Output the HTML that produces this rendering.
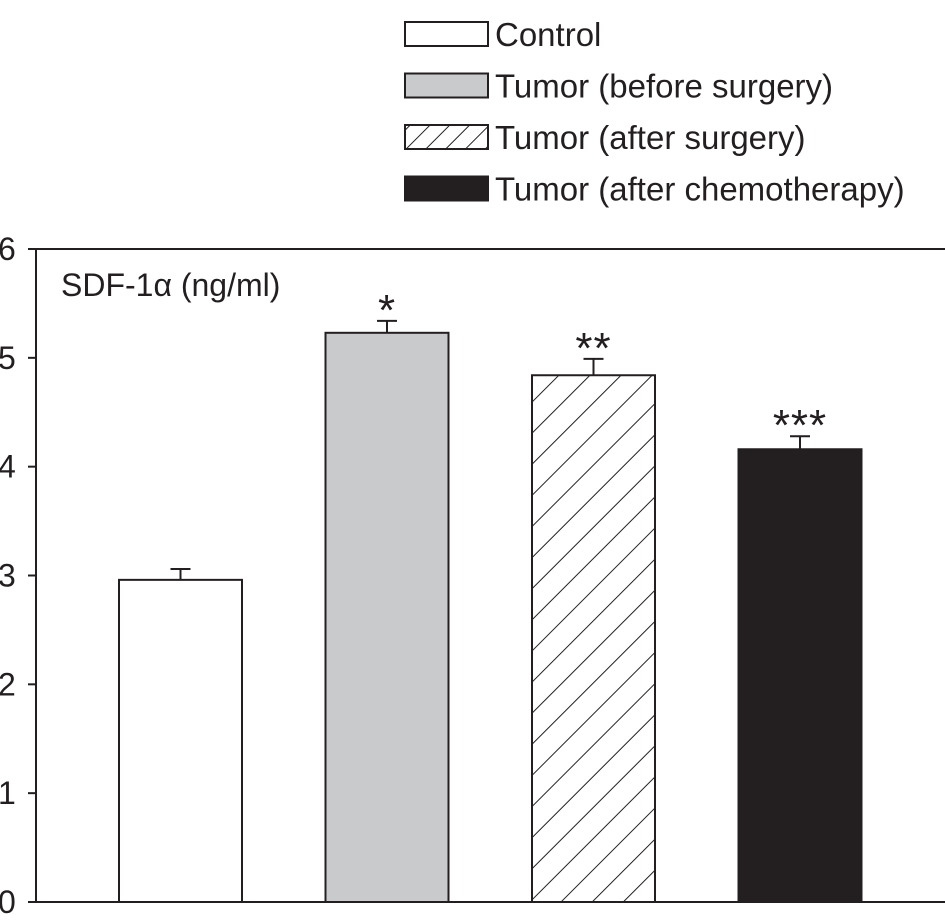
<!DOCTYPE html>
<html><head><meta charset="utf-8"><style>
html,body{margin:0;padding:0;background:#fff;}
svg{display:block;font-family:"Liberation Sans",sans-serif;}
</style></head><body>
<svg id="chart" width="945" height="921" viewBox="0 0 945 921">
<defs>
<pattern id="hatch" patternUnits="userSpaceOnUse" width="22" height="22" patternTransform="rotate(45)">
<rect width="22" height="22" fill="#fff"/><line x1="0" y1="0" x2="0" y2="22" stroke="#222" stroke-width="2"/>
</pattern>
<pattern id="hatchL" patternUnits="userSpaceOnUse" width="14" height="14" patternTransform="rotate(45)">
<rect width="14" height="14" fill="#fff"/><line x1="0" y1="0" x2="0" y2="14" stroke="#222" stroke-width="2"/>
</pattern>
</defs>
<g id="legend"></g>
<g id="plot"></g>
</svg>
<script>
const categories = ["Control","Tumor (before surgery)","Tumor (after surgery)","Tumor (after chemotherapy)"];
const values = [2.96, 5.23, 4.84, 4.16];
const errors = [0.10, 0.11, 0.15, 0.12];
const stars = ["", "*", "**", "***"];
const yTicks = [0,1,2,3,4,5,6];

const NS="http://www.w3.org/2000/svg";
const fills=["#fff","#c8cacc","url(#hatch)","#231f20"];
const legFills=["#fff","#c8cacc","url(#hatchL)","#231f20"];
const x0=36, xEnd=945, yTop=249, yBot=902, yMax=6;
const y=v=>yBot-(v/yMax)*(yBot-yTop);
const barW=123, barStart=119, barStep=206.5;
const bx=i=>barStart+i*barStep;
function mk(tag,attrs,parent){const e=document.createElementNS(NS,tag);for(const k in attrs)e.setAttribute(k,attrs[k]);parent.appendChild(e);return e;}
const plot=document.getElementById('plot');
const legend=document.getElementById('legend');

categories.forEach((c,i)=>{
  const top=y(values[i]), et=y(values[i]+errors[i]), cx=bx(i)+barW/2;
  const eb=mk('line',{x1:cx,y1:top,x2:cx,y2:et,stroke:"#231f20","stroke-width":2},plot);
  
  
  const cap=mk('line',{x1:cx-10,y1:et,x2:cx+10,y2:et,stroke:"#231f20","stroke-width":2},plot);
  
  
  const r=mk('rect',{x:bx(i),y:top,width:barW,height:yBot-top,fill:fills[i],stroke:"#231f20","stroke-width":2},plot);
  
  
  if(stars[i]){
    const s=mk('text',{x:cx,y:et+4,"text-anchor":"middle","font-size":44,fill:"#231f20","letter-spacing":"1"},plot);
    s.textContent=stars[i];
    
    
  }
  const ly=22+i*51.5;
  const lb=mk('rect',{x:405,y:ly,width:83,height:24,fill:legFills[i],stroke:"#231f20","stroke-width":2},legend);
  
  
  const lt=mk('text',{x:495,y:ly+24,"font-size":33,fill:"#231f20"},legend);
  lt.textContent=c;
  
  
});

yTicks.forEach(t=>{
  const tk=mk('line',{x1:28,y1:y(t),x2:x0,y2:y(t),stroke:"#231f20","stroke-width":2},plot);
  
  
  const tl=mk('text',{x:-2,y:y(t)+11,"font-size":32,fill:"#231f20"},plot);
  tl.textContent=t;
  
  
});
const ya=mk('line',{x1:x0,y1:yTop,x2:x0,y2:yBot,stroke:"#231f20","stroke-width":2},plot);


const xa=mk('line',{x1:x0-8,y1:yBot,x2:xEnd,y2:yBot,stroke:"#231f20","stroke-width":2},plot);


const tf=mk('line',{x1:x0-8,y1:yTop,x2:xEnd,y2:yTop,stroke:"#231f20","stroke-width":2},plot);


const title=mk('text',{x:61,y:296,"font-size":32,fill:"#231f20"},plot);
title.textContent="SDF-1α (ng/ml)";


</script>
</body></html>
